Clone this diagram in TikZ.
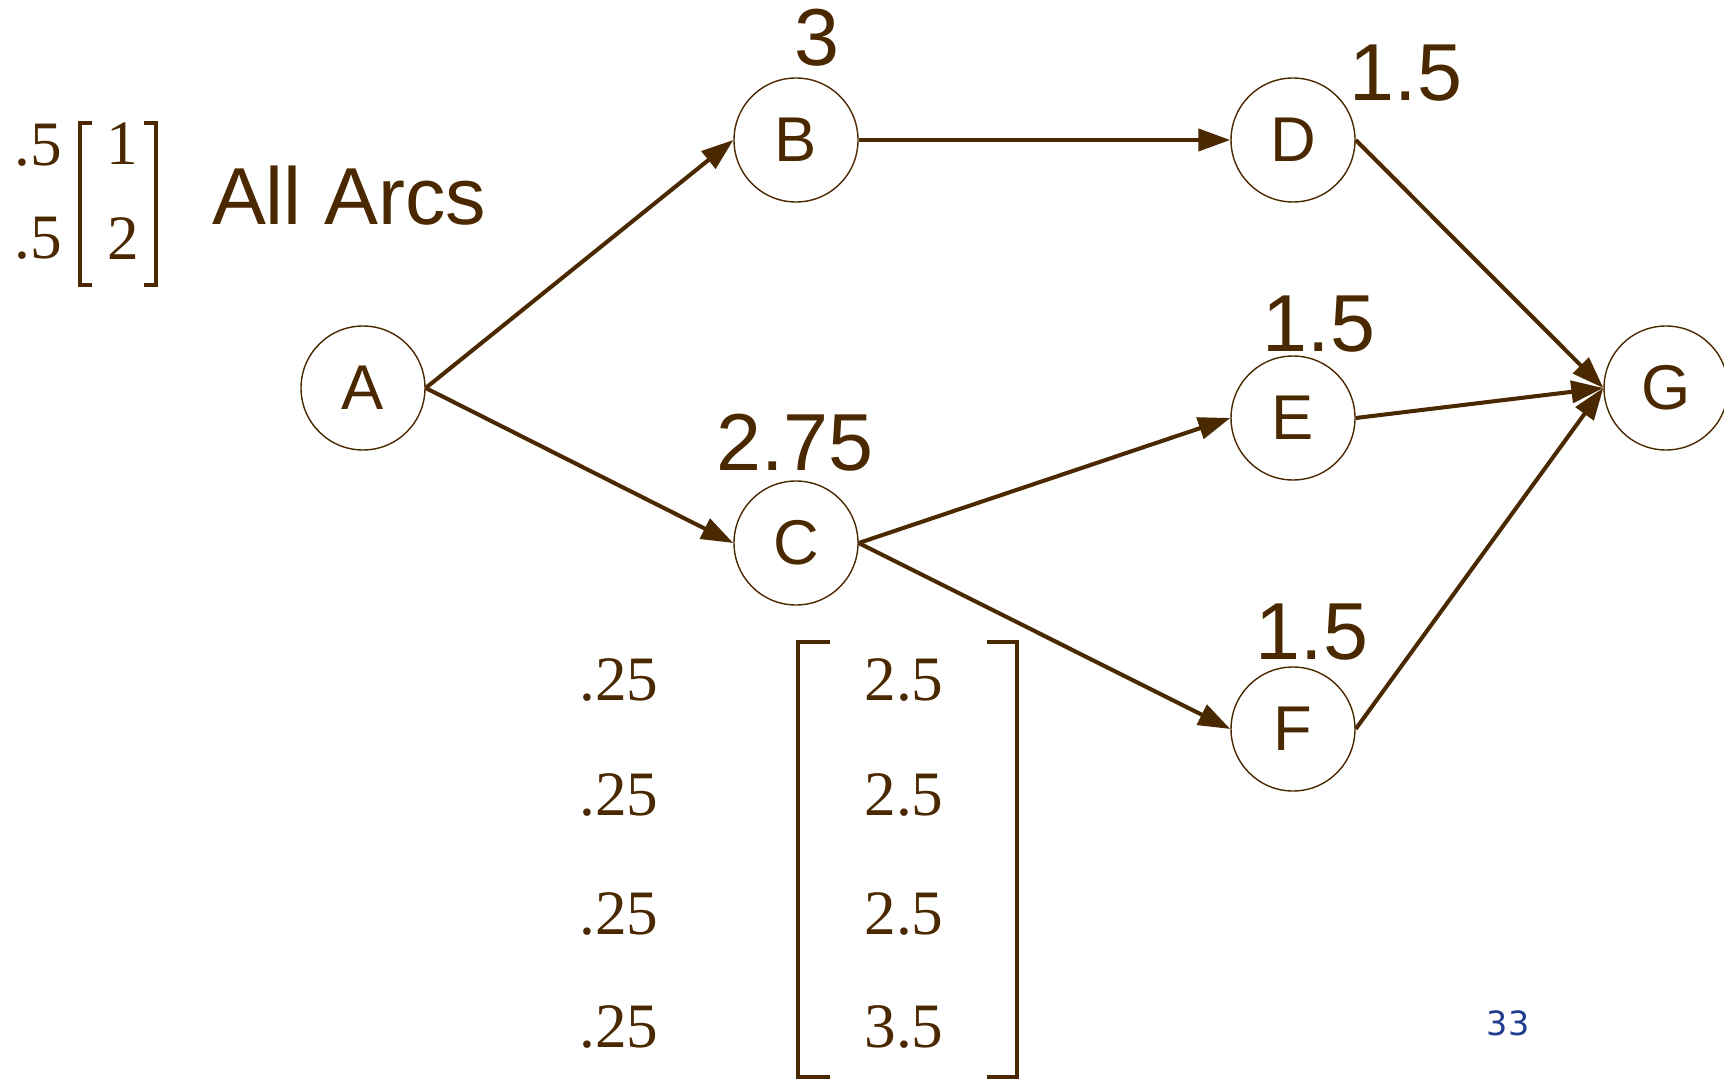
\documentclass[tikz,border=0pt]{standalone}
\usepackage{fontspec}
\setmainfont{Liberation Sans}
\newfontfamily\numserif{Liberation Serif}
\newfontfamily\pagefont{DejaVu Sans}
\usepackage{tikz}
\usetikzlibrary{arrows.meta,positioning}
\definecolor{evbrown}{HTML}{4A2800}
\definecolor{evblue}{HTML}{1F3C8F}

\tikzset{
  chance/.style={circle,draw=evbrown,line width=0.4pt,minimum size=1.24cm,inner sep=0pt,
    font=\fontsize{18}{20}\selectfont,text=evbrown},
  arc/.style={draw=evbrown,line width=1.15pt,-{Triangle[length=0.32cm,width=0.22cm]}},
  ev/.style={font=\fontsize{23}{26}\selectfont,text=evbrown},
  prob/.style={font=\numserif\fontsize{18}{20}\selectfont,text=evbrown},
  brak/.style={draw=evbrown,line width=0.9pt}
}

\begin{document}
\begin{tikzpicture}[x=1cm,y=1cm]
  \useasboundingbox (0,0) rectangle (17.24,10.79);

  % decision tree nodes
  \node[chance] (A) at (3.63,6.91) {A};
  \node[chance] (B) at (7.96,9.39) {B};
  \node[chance] (C) at (7.96,5.36) {C};
  \node[chance] (D) at (12.93,9.39) {D};
  \node[chance] (E) at (12.93,6.61) {E};
  \node[chance] (F) at (12.93,3.50) {F};
  \node[chance] (G) at (16.66,6.91) {G};

  \draw[arc] (A.east) -- (B.west);
  \draw[arc] (A.east) -- (C.west);
  \draw[arc] (B.east) -- (D.west);
  \draw[arc] (C.east) -- (E.west);
  \draw[arc] (C.east) -- (F.west);
  \draw[arc] (D.east) -- (G.west);
  \draw[arc] (E.east) -- (G.west);
  \draw[arc] (F.east) -- (G.west);

  % expected values
  \node[ev] (evB) at (8.17,10.41) {3};
  \node[ev] (evC) at (7.95,6.36) {2.75};
  \node[ev] (evD) at (14.06,10.06) {1.5};
  \node[ev] (evE) at (13.19,7.55) {1.5};
  \node[ev] (evF) at (13.12,4.47) {1.5};

  % arc distribution
  \node[prob] (pa1) at (0.38,9.34) {.5};
  \node[prob] (pa2) at (0.38,8.41) {.5};
  \node[prob] (va1) at (1.22,9.35) {1};
  \node[prob] (va2) at (1.23,8.40) {2};
  \draw[brak] (0.92,9.56) -- (0.80,9.56) -- (0.80,7.94) -- (0.92,7.94);
  \draw[brak] (1.44,9.56) -- (1.56,9.56) -- (1.56,7.94) -- (1.44,7.94);
  \node[ev] (arcs) at (3.49,8.83) {All Arcs};

  % distribution at C
  \foreach \y/\v [count=\i] in {3.99/2.5,2.84/2.5,1.65/2.5,0.52/3.5} {
    \node[prob] (pc\i) at (6.19,\y) {.25};
    \node[prob] (vc\i) at (9.04,\y) {\v};
  }
  \draw[brak] (8.30,4.37) -- (7.98,4.37) -- (7.98,0.02) -- (8.30,0.02);
  \draw[brak] (9.87,4.37) -- (10.17,4.37) -- (10.17,0.02) -- (9.87,0.02);

  \node[font=\pagefont\fontsize{9.5}{11}\selectfont,text=evblue] (page) at (15.08,0.56) {33};
\end{tikzpicture}
\end{document}
